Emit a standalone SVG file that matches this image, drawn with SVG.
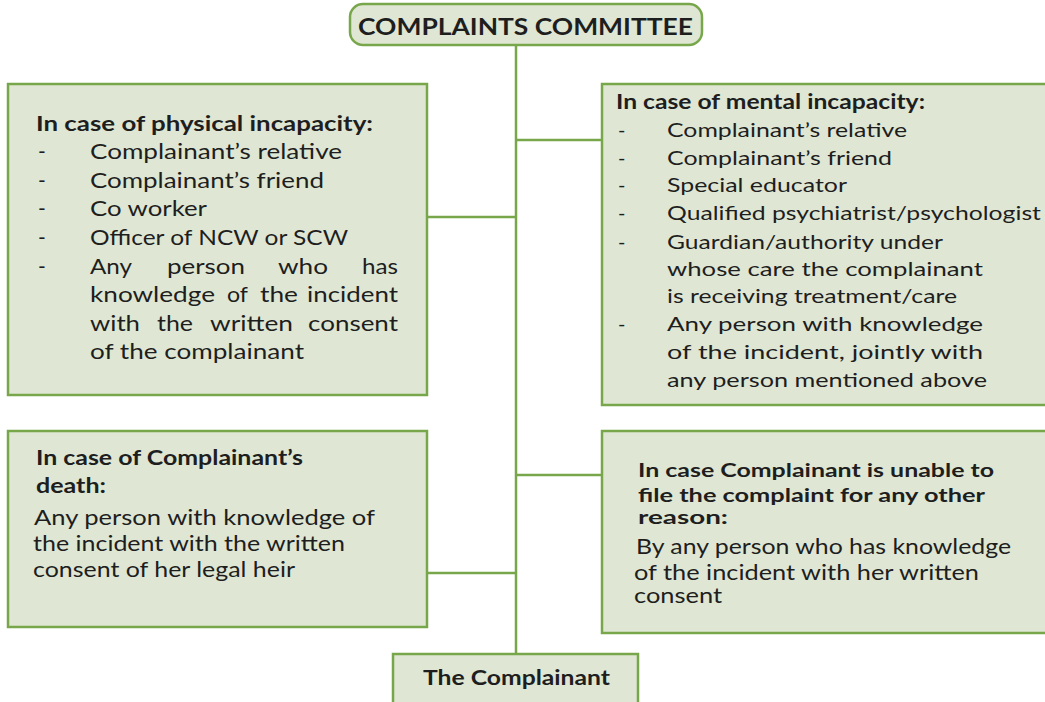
<svg xmlns="http://www.w3.org/2000/svg" width="1045" height="702" viewBox="0 0 1045 702">
<style>
.box{fill:#dfe7d4;stroke:#77a74a;stroke-width:2.5}
.ln{stroke:#77a74a;stroke-width:2.5;fill:none}
text{font-family:Lato,"Liberation Sans",sans-serif;fill:#1e1e1e}
.t{font-weight:bold;font-size:20px}
.b{font-size:21px}
.r{font-size:20px}
.t2{font-weight:bold;font-size:19px}
</style>
<rect width="1045" height="702" fill="#ffffff"/>
<g id="connectors">
<line class="ln" x1="516" y1="45" x2="516" y2="654"/>
<line class="ln" x1="427" y1="217" x2="516" y2="217"/>
<line class="ln" x1="516" y1="140" x2="602" y2="140"/>
<line class="ln" x1="427" y1="573" x2="516" y2="573"/>
<line class="ln" x1="516" y1="475" x2="602" y2="475"/>
</g>
<g id="committee">
<rect class="box" x="350" y="4" width="352" height="41" rx="13"/>
<text x="358" y="35" font-weight="bold" font-size="23" textLength="335" lengthAdjust="spacingAndGlyphs">COMPLAINTS COMMITTEE</text>
</g>
<g id="physical">
<rect class="box" x="8" y="84" width="419" height="311"/>
<text class="t" x="36" y="131" textLength="337" lengthAdjust="spacingAndGlyphs">In case of physical incapacity:</text>
<g class="b">
<text x="38" y="159">-</text><text x="90" y="159" textLength="252" lengthAdjust="spacingAndGlyphs">Complainant’s relative</text>
<text x="38" y="188">-</text><text x="90" y="188" textLength="234" lengthAdjust="spacingAndGlyphs">Complainant’s friend</text>
<text x="38" y="216">-</text><text x="90" y="216" textLength="117" lengthAdjust="spacingAndGlyphs">Co worker</text>
<text x="38" y="245">-</text><text x="90" y="245" textLength="258" lengthAdjust="spacingAndGlyphs">Officer of NCW or SCW</text>
<text x="38" y="274">-</text>
<text x="90" y="274" textLength="42" lengthAdjust="spacingAndGlyphs">Any</text>
<text x="167" y="274" textLength="78" lengthAdjust="spacingAndGlyphs">person</text>
<text x="278" y="274" textLength="50" lengthAdjust="spacingAndGlyphs">who</text>
<text x="362" y="274" textLength="36" lengthAdjust="spacingAndGlyphs">has</text>
<text x="90" y="302" textLength="125" lengthAdjust="spacingAndGlyphs">knowledge</text>
<text x="227" y="302" textLength="21" lengthAdjust="spacingAndGlyphs">of</text>
<text x="260" y="302" textLength="38" lengthAdjust="spacingAndGlyphs">the</text>
<text x="307" y="302" textLength="91" lengthAdjust="spacingAndGlyphs">incident</text>
<text x="90" y="331" textLength="50" lengthAdjust="spacingAndGlyphs">with</text>
<text x="157" y="331" textLength="36" lengthAdjust="spacingAndGlyphs">the</text>
<text x="210" y="331" textLength="83" lengthAdjust="spacingAndGlyphs">written</text>
<text x="308" y="331" textLength="90" lengthAdjust="spacingAndGlyphs">consent</text>
<text x="90" y="359" textLength="214" lengthAdjust="spacingAndGlyphs">of the complainant</text>
</g>
</g>
<g id="mental">
<rect class="box" x="602" y="84" width="450" height="321"/>
<text class="t" x="616" y="109" textLength="309" lengthAdjust="spacingAndGlyphs">In case of mental incapacity:</text>
<g class="r">
<text x="618" y="137">-</text><text x="667" y="137" textLength="240" lengthAdjust="spacingAndGlyphs">Complainant’s relative</text>
<text x="618" y="165">-</text><text x="667" y="165" textLength="225" lengthAdjust="spacingAndGlyphs">Complainant’s friend</text>
<text x="618" y="192">-</text><text x="667" y="192" textLength="180" lengthAdjust="spacingAndGlyphs">Special educator</text>
<text x="618" y="220">-</text><text x="667" y="220" textLength="374" lengthAdjust="spacingAndGlyphs">Qualified psychiatrist/psychologist</text>
<text x="618" y="249">-</text><text x="667" y="249" textLength="276" lengthAdjust="spacingAndGlyphs">Guardian/authority under</text>
<text x="667" y="276" textLength="316" lengthAdjust="spacingAndGlyphs">whose care the complainant</text>
<text x="667" y="303" textLength="290" lengthAdjust="spacingAndGlyphs">is receiving treatment/care</text>
<text x="618" y="331">-</text><text x="667" y="331" textLength="316" lengthAdjust="spacingAndGlyphs">Any person with  knowledge</text>
<text x="667" y="359" textLength="316" lengthAdjust="spacingAndGlyphs">of the incident, jointly with</text>
<text x="667" y="387" textLength="320" lengthAdjust="spacingAndGlyphs">any person mentioned above</text>
</g>
</g>
<g id="death">
<rect class="box" x="8" y="431" width="419" height="196"/>
<text class="t" x="36" y="465" textLength="267" lengthAdjust="spacingAndGlyphs">In case of Complainant’s</text>
<text class="t" x="36" y="493" textLength="70" lengthAdjust="spacingAndGlyphs">death:</text>
<text class="b" x="34" y="525" textLength="341" lengthAdjust="spacingAndGlyphs">Any person with knowledge of</text>
<text class="b" x="33" y="551" textLength="312" lengthAdjust="spacingAndGlyphs">the incident with the written</text>
<text class="b" x="33" y="577" textLength="262" lengthAdjust="spacingAndGlyphs">consent of her legal heir</text>
</g>
<g id="other">
<rect class="box" x="602" y="431" width="450" height="202"/>
<text class="t2" x="638" y="477" textLength="356" lengthAdjust="spacingAndGlyphs">In case Complainant  is unable to</text>
<text class="t2" x="638" y="502" textLength="347" lengthAdjust="spacingAndGlyphs">file the  complaint for any other</text>
<text class="t2" x="638" y="524" textLength="90" lengthAdjust="spacingAndGlyphs">reason:</text>
<text class="b" x="636" y="554" textLength="375" lengthAdjust="spacingAndGlyphs">By any person who has knowledge</text>
<text class="b" x="634" y="580" textLength="345" lengthAdjust="spacingAndGlyphs">of the incident with her written</text>
<text class="b" x="634" y="603" textLength="88" lengthAdjust="spacingAndGlyphs">consent</text>
</g>
<g id="complainant">
<rect class="box" x="393" y="654" width="245" height="60"/>
<text x="423" y="685" font-weight="bold" font-size="20" textLength="187" lengthAdjust="spacingAndGlyphs">The Complainant</text>
</g>
</svg>
